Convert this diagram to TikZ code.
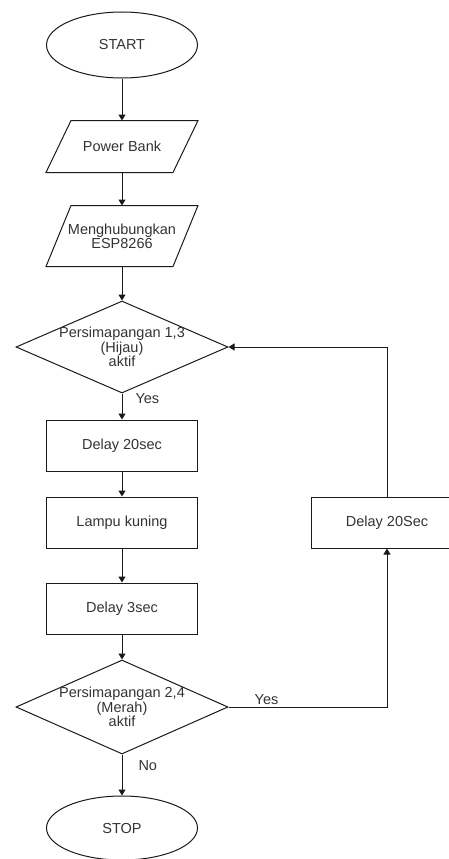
\documentclass[tikz,border=0pt]{standalone}
\usepackage{fontspec}
\setmainfont{Liberation Sans}
\usetikzlibrary{positioning, arrows.meta, shapes.geometric}
\definecolor{lineclr}{HTML}{1A1A1A}
\definecolor{txtclr}{HTML}{333333}
\newcommand{\flowfont}{\fontsize{14.5}{12.5}\selectfont}
\tikzset{
  base/.style={
    draw=lineclr,
    line width=1pt,
    align=center,
    text=txtclr,
    inner sep=0pt,
    font=\flowfont
  },
  term/.style={base, ellipse, minimum width=151pt, minimum height=66pt},
  io/.style={base, draw=none, rectangle, minimum width=151pt},
  proc/.style={base, rectangle, minimum width=151pt, minimum height=51pt},
  cek/.style={base, diamond, aspect=2.3, inner sep=-6pt, minimum width=212pt, minimum height=92pt},
  arr/.style={-{Triangle[length=6pt, width=7pt]}, line width=1pt, draw=lineclr},
  lbl/.style={font=\flowfont, text=txtclr, inner sep=2pt}
}

\begin{document}
\begin{tikzpicture}[x=1pt, y=1pt]
  \useasboundingbox (0,0) rectangle (449,-859);

  % main column
  \node[term] (start) at (122,-45) {START};
  \node[io, below=42pt of start, minimum height=51pt] (pb) {Power Bank};
  \node[io, below=33pt of pb, minimum height=60pt] (esp) {Menghubungkan\\ESP8266};
  \node[cek, below=34pt of esp] (cek1) {Persimapangan 1,3\\(Hijau)\\aktif};
  \node[proc, below=26pt of cek1] (d20) {Delay 20sec};
  \node[proc, below=25pt of d20] (kuning) {Lampu kuning};
  \node[proc, below=34pt of kuning] (d3) {Delay 3sec};
  \node[cek, below=25pt of d3, minimum height=94pt] (cek2) {Persimapangan 2,4\\(Merah)\\aktif};
  \node[term, below=41pt of cek2, minimum height=64pt] (stop) {STOP};

  % loop back
  \node[proc, right=113pt of kuning] (wait) {Delay 20Sec};

  % parallelogram outlines for the input nodes
  \foreach \n in {pb, esp}
    \draw[line width=1pt, draw=lineclr] (\n.south west) -- ([xshift=-25pt]\n.south east)
      -- (\n.north east) -- ([xshift=25pt]\n.north west) -- cycle;

  \draw[arr] (start) -- (pb);
  \draw[arr] (pb) -- (esp);
  \draw[arr] (esp) -- (cek1);
  \draw[arr] (cek1) -- node[lbl, pos=0.19, right=11pt] {Yes} (d20);
  \draw[arr] (d20) -- (kuning);
  \draw[arr] (kuning) -- (d3);
  \draw[arr] (d3) -- (cek2);
  \draw[arr] (cek2) -- node[lbl, pos=0.26, right=14pt] {No} (stop);
  \draw[arr] (cek2.east) -| node[lbl, pos=0.12, above] {Yes} (wait.south);
  \draw[arr] (wait.north) |- (cek1.east);

\end{tikzpicture}
\end{document}
